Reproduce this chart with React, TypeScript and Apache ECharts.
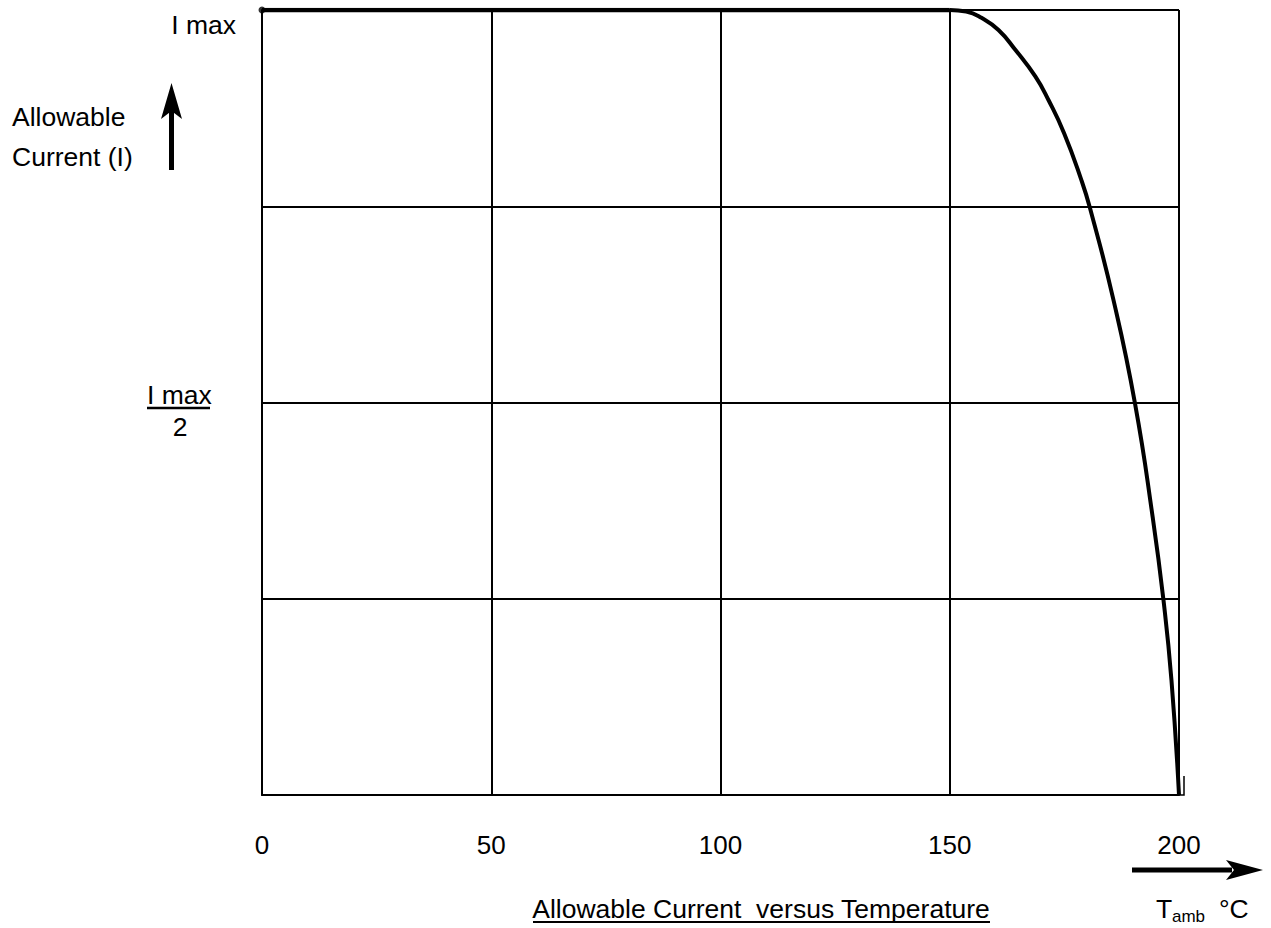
import React, { useEffect, useRef } from "react";
import * as echarts from "echarts";

const xTicks = [0, 50, 100, 150, 200];
const flatX = [0, 150];
const flatY = [1, 1];
const curveX = [150, 153.6, 156.92, 160.63, 164.34, 168.7, 171.56, 174.94, 178.73, 180.57, 185.69, 190.4, 194.26, 196.62, 198.36, 200];
const curveY = [1, 0.998, 0.99, 0.9745, 0.949, 0.915, 0.885, 0.843, 0.783, 0.748, 0.631, 0.499, 0.354, 0.248, 0.146, 0];
const startDot = [[0, 1]];

const FONT = "'Liberation Sans', Arial, Helvetica, sans-serif";
const FS = 26.5;

export default function App() {
  const ref = useRef<HTMLDivElement>(null);
  useEffect(() => {
    if (!ref.current) return;
    const chart = echarts.init(ref.current, undefined, { renderer: "svg" });
    const flatData = flatX.map((x, i) => [x, flatY[i]]);
    const curveData = curveX.map((x, i) => [x, curveY[i]]);
    const txt = (x: number, y: number, text: string, size = FS, align = "left") => ({
      type: "text",
      x,
      y,
      style: { text, fontSize: size, fontFamily: FONT, fill: "#000", align, verticalAlign: "middle" },
    });
    chart.setOption({
      animation: false,
      backgroundColor: "#fff",
      grid: { left: 262, top: 10, right: 92, bottom: 133, containLabel: false },
      xAxis: {
        type: "value",
        min: 0,
        max: 200,
        interval: 50,
        axisLine: { show: true, lineStyle: { color: "#000", width: 2 } },
        axisTick: { show: false },
        axisLabel: {
          color: "#000",
          fontSize: 26,
          fontFamily: FONT,
          margin: 37,
          formatter: (v: number) => (xTicks.includes(v) ? String(v) : ""),
        },
        splitLine: { show: true, lineStyle: { color: "#000", width: 2 } },
      },
      yAxis: {
        type: "value",
        min: 0,
        max: 1,
        interval: 0.25,
        axisLine: { show: true, lineStyle: { color: "#000", width: 2 } },
        axisTick: { show: false },
        axisLabel: { show: false },
        splitLine: { show: true, lineStyle: { color: "#000", width: 2 } },
      },
      series: [
        {
          type: "line",
          data: flatData,
          symbol: "none",
          lineStyle: { color: "#000", width: 4.5 },
          z: 5,
        },
        {
          type: "line",
          data: curveData,
          smooth: 0.5,
          symbol: "none",
          lineStyle: { color: "#000", width: 4 },
          z: 5,
        },
        {
          type: "scatter",
          data: startDot,
          symbol: "circle",
          symbolSize: 7,
          itemStyle: { color: "#000" },
          z: 6,
        },
      ],
      graphic: [
        txt(236, 25, "I max", FS, "right"),
        txt(12, 117, "Allowable"),
        txt(12, 157, "Current (I)"),
        // up arrow
        { type: "rect", shape: { x: 169, y: 108, width: 5, height: 62 }, style: { fill: "#000" } },
        {
          type: "polygon",
          shape: { points: [[171.5, 83], [182, 119], [171.5, 111], [161, 119]] },
          style: { fill: "#000" },
        },
        // I max / 2
        txt(147, 395, "I max", FS, "left"),
        { type: "line", shape: { x1: 147, y1: 408, x2: 210, y2: 408 }, style: { stroke: "#000", lineWidth: 2.5 } },
        txt(180, 427, "2", FS, "center"),
        // right arrow
        { type: "rect", shape: { x: 1132, y: 867.5, width: 100, height: 5 }, style: { fill: "#000" } },
        {
          type: "polygon",
          shape: { points: [[1263, 870], [1226, 880], [1234, 870], [1226, 860]] },
          style: { fill: "#000" },
        },
        // T_amb °C
        txt(1156, 909, "T", FS),
        txt(1172, 916, "amb", 17),
        txt(1219, 909, "°C", FS),
        // title
        txt(761, 909, "Allowable Current  versus Temperature", FS, "center"),
        { type: "line", shape: { x1: 533, y1: 922, x2: 990, y2: 922 }, style: { stroke: "#000", lineWidth: 2 } },
        // small hook at end of curve
        {
          type: "polyline",
          shape: { points: [[1179, 795], [1184, 795], [1184, 776]] },
          style: { stroke: "#000", lineWidth: 1.5, fill: "none" },
        },
      ],
    });
    return () => chart.dispose();
  }, []);
  return (
    <div
      ref={ref}
      style={{ position: "fixed", left: 0, top: 0, width: 1271, height: 928, background: "#fff" }}
    />
  );
}
